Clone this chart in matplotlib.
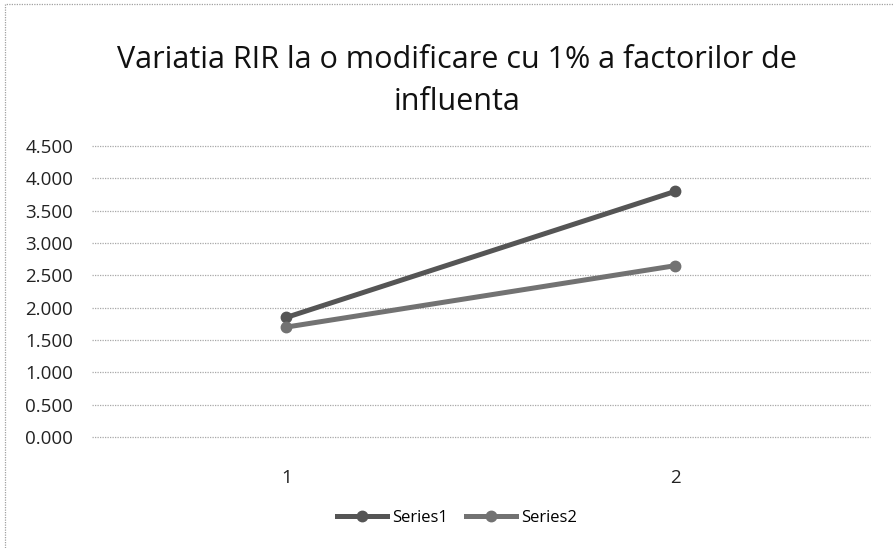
import matplotlib
matplotlib.use("Agg")
import matplotlib.pyplot as plt
from matplotlib.patches import Rectangle
from matplotlib.ticker import FuncFormatter, MultipleLocator

categories = ["1", "2"]
series1 = [1.85, 3.80]
series2 = [1.70, 2.65]
series_names = ["Series1", "Series2"]
title = "Variatia RIR la o modificare cu 1% a factorilor de\ninfluenta"

plt.rcParams["font.family"] = ["Open Sans", "DejaVu Sans"]

fig = plt.figure(figsize=(8.95, 5.48), dpi=100)
ax = fig.add_axes([92 / 895, 1 - 437 / 548, (870 - 92) / 895, (437 - 146) / 548])

x = list(range(len(categories)))
ax.plot(x, series1, color="#555555", lw=3.6, marker="o", ms=7.5, label=series_names[0], zorder=3)
ax.plot(x, series2, color="#727272", lw=3.6, marker="o", ms=7.5, label=series_names[1], zorder=3)

ax.set_xlim(-0.5, len(categories) - 0.5)
ax.set_ylim(0, 4.5)
ax.yaxis.set_major_locator(MultipleLocator(0.5))
ax.yaxis.set_major_formatter(FuncFormatter(lambda v, p: f"{v:.3f}"))
ax.set_xticks(x)
ax.set_xticklabels(categories)
ax.grid(axis="y", color="#a8a8a8", ls=(0, (1, 1)), lw=0.9)
for line in ax.get_ygridlines():
    line.set_clip_on(False)
for s in ax.spines.values():
    s.set_visible(False)
ax.tick_params(axis="both", length=0, labelsize=13.5, colors="#222222")
ax.tick_params(axis="x", pad=23)
ax.tick_params(axis="y", pad=13.5)

fig.text(457 / 895, 1 - 81 / 548, title, ha="center", va="center", fontsize=22,
         linespacing=1.5, color="#111111")

fig.legend(loc="center", bbox_to_anchor=(457 / 895, 1 - 518 / 548), ncol=2, frameon=False,
           fontsize=12, handlelength=3.0, handletextpad=0.3, columnspacing=1.1)

fig.patches.append(Rectangle((5 / 895, -0.01), 1.0, 1 - 4 / 548 + 0.01, transform=fig.transFigure,
                             fill=False, edgecolor="#a0a0a0", lw=0.9, ls=(0, (1, 1))))

fig.savefig("out.png", dpi=100, facecolor="white")
